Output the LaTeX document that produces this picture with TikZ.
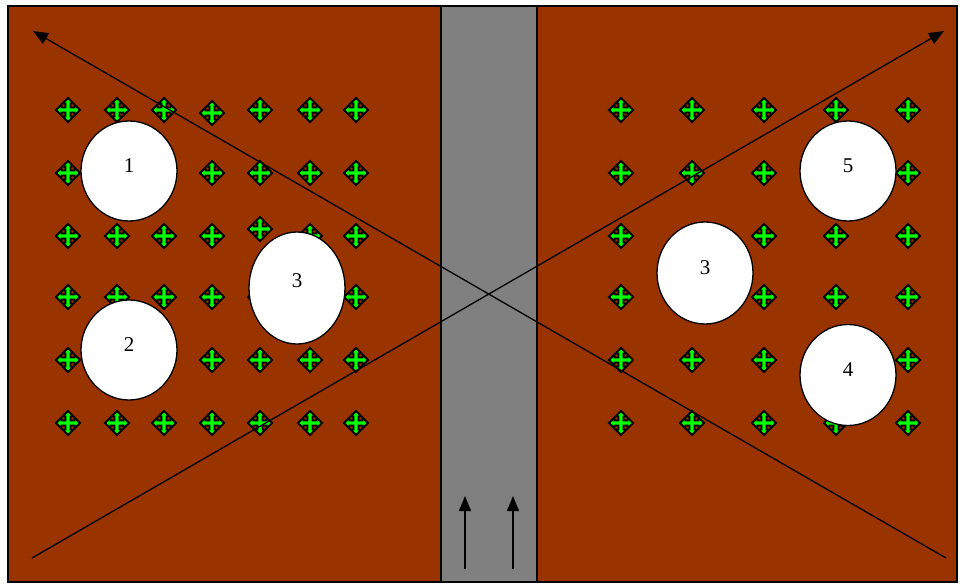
\documentclass[tikz,border=0pt]{standalone}
\usepackage{fontspec}
\setmainfont{Liberation Serif}
\usetikzlibrary{arrows.meta,shapes.geometric}
\definecolor{soil}{HTML}{993300}
\definecolor{path}{HTML}{808080}
\definecolor{sprout}{HTML}{00FF00}
\tikzset{
  field/.style={fill=soil,draw=black,line width=1.5pt},
  lane/.style={fill=path,draw=black,line width=1.5pt},
  spot/.style={ellipse,fill=white,draw=black,line width=1.3pt,inner sep=0pt,
    minimum width=96pt,font=\fontsize{21}{21}\selectfont},
  diag/.style={line width=1.3pt,-{Triangle[length=15pt,width=12pt]}},
  mover/.pic={
    \filldraw[fill=sprout,draw=black,line width=1.8pt,line join=miter]
      (12,0) -- (6.5,5.5) -- (6.5,2.5) -- (2.5,2.5) -- (2.5,6.5) -- (5.5,6.5) -- (0,12)
      -- (-5.5,6.5) -- (-2.5,6.5) -- (-2.5,2.5) -- (-6.5,2.5) -- (-6.5,5.5) -- (-12,0)
      -- (-6.5,-5.5) -- (-6.5,-2.5) -- (-2.5,-2.5) -- (-2.5,-6.5) -- (-5.5,-6.5) -- (0,-12)
      -- (5.5,-6.5) -- (2.5,-6.5) -- (2.5,-2.5) -- (6.5,-2.5) -- (6.5,-5.5) -- cycle;
  }
}
\begin{document}
\begin{tikzpicture}[x=1pt,y=-1pt]
\useasboundingbox (0,0) rectangle (960,586);
% ground: two beds and the central lane
\draw[field] (8,6) rectangle (441,582);
\draw[field] (537,6) rectangle (957,582);
\draw[lane] (441,6) rectangle (537,582);

% plants, left bed (two of them sit a little off the grid)
\foreach \x in {68,117,164,212,260,310,356}
  \foreach \y in {110,173,236,297,360,423}{
    \pgfmathsetmacro{\dy}{(\x==212 && \y==110) ? 3 : ((\x==260 && \y==236) ? -7 : 0)}
    \pic at (\x,\y+\dy) {mover};
  }
% plants, right bed
\foreach \x in {621,692,764,836,908}
  \foreach \y in {110,173,236,297,360,423}
    \pic at (\x,\y) {mover};

% clearings
\node[spot,minimum height=100pt] (c1) at (129,171) {\raisebox{10pt}{1}};
\node[spot,minimum height=100pt] (c2) at (129,350) {\raisebox{10pt}{2}};
\node[spot,minimum height=112pt] (c3l) at (297,288) {\raisebox{14pt}{3}};
\node[spot,minimum height=102pt] (c3r) at (705,273) {\raisebox{11pt}{3}};
\node[spot,minimum height=100pt] (c5) at (848,171) {\raisebox{10pt}{5}};
\node[spot,minimum height=101pt] (c4) at (848,375) {\raisebox{11pt}{4}};

% diagonals
\coordinate (bl) at (32,558);
\coordinate (br) at (946,558);
\coordinate (tl) at (33,31);
\coordinate (tr) at (944,31);
\draw[diag] (br) -- (tl);
\draw[diag] (bl) -- (tr);

% direction of travel along the lane
\coordinate (a1s) at (465,569);
\coordinate (a1e) at (465,496);
\coordinate (a2s) at (513,569);
\coordinate (a2e) at (513,496);
\draw[diag] (a1s) -- (a1e);
\draw[diag] (a2s) -- (a2e);
\end{tikzpicture}
\end{document}
